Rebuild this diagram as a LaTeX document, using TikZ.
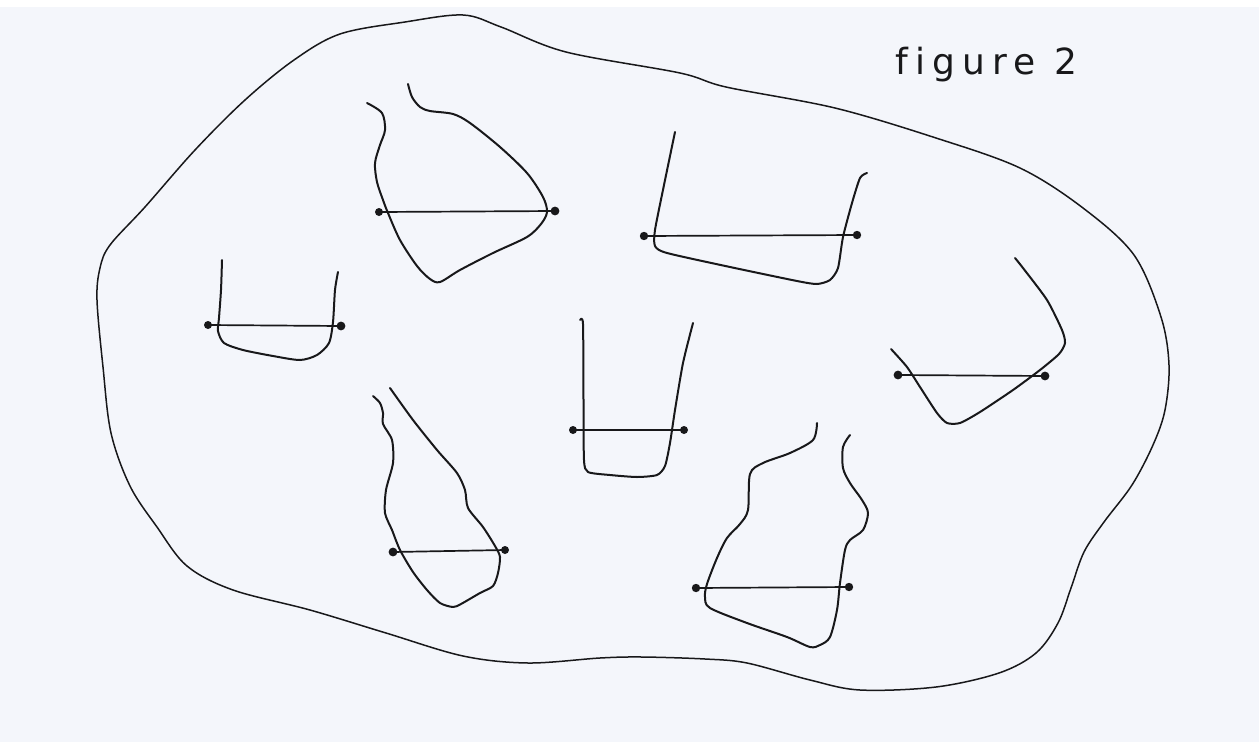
\documentclass[tikz,border=0pt]{standalone}
\usepackage{fontspec}
\newfontfamily\figfont[LetterSpace=20,Ligatures=NoCommon]{DejaVu Sans}
\definecolor{ink}{RGB}{24,24,26}
\definecolor{paper}{RGB}{244,246,251}
\tikzset{
  outline/.style={draw=ink, line width=1.5pt, line cap=round, line join=round},
  cupline/.style={draw=ink, line width=2pt, line cap=round, line join=round},
  bar/.style={draw=ink, line width=1.7pt},
  endpt/.style={fill=ink, draw=none},
}
\begin{document}
\begin{tikzpicture}[x=1pt,y=-1pt]
\fill[paper] (0,0) rectangle (1259,742);
\fill[white] (0,0) rectangle (1259,7);
\useasboundingbox (0,0) rectangle (1259,742);

% outer blob
\draw[outline] plot[smooth cycle, tension=0.55] coordinates {
 (463,15) (501,27) (566,52) (680,73) (726,87) (835,108) (936,138) (1020,168)
 (1083,208) (1134,255) (1161,317) (1169,365) (1165,410) (1153,445) (1132,485)
 (1104,522) (1084,552) (1071,588) (1058,623) (1036,653) (999,673) (936,687)
 (860,690) (810,680) (747,663) (705,659) (642,657) (600,658) (528,663)
 (463,656) (386,633) (310,610) (233,590) (187,566) (157,527) (130,486)
 (111,433) (103,367) (97,300) (100,268) (110,245) (145,207) (195,150)
 (245,100) (294,60) (340,34) (405,22)};

% label
\node[anchor=base west, inner sep=0pt, text=ink, font=\figfont\fontsize{36}{40}\selectfont] (title) at (895,74) {figure 2};

% cup A
\draw[cupline] plot[smooth, tension=0.5] coordinates {
 (367,103) (382,113) (385,130) (380,145) (375,163) (377,182) (383,200)
 (388,213) (400,240) (417,266) (430,279) (440,282) (460,270) (493,253)
 (527,237) (541,224) (547,212) (543,197) (527,173) (500,147) (470,123)
 (453,114) (430,111) (420,107) (412,97) (408,84)};
\coordinate (a1) at (379,212); \coordinate (a2) at (555,211);
\draw[bar] (a1) -- (a2);
\fill[endpt] (a1) circle (4pt); \fill[endpt] (a2) circle (4.4pt);

% cup B
\draw[cupline] plot[smooth, tension=0.4] coordinates {
 (675,132) (664,185) (655,230) (655,246) (667,253) (730,267) (797,281)
 (817,284) (830,280) (838,268) (843,237) (852,203) (860,178) (867,173)};
\coordinate (b1) at (644,236); \coordinate (b2) at (857,235);
\draw[bar] (b1) -- (b2);
\fill[endpt] (b1) circle (4.2pt); \fill[endpt] (b2) circle (4.2pt);

% cup C
\draw[cupline] plot[smooth, tension=0.45] coordinates {
 (222,260) (221,290) (219,318) (218,331) (224,343) (243,350) (273,356)
 (300,360) (317,355) (329,343) (333,322) (335,290) (338,272)};
\coordinate (c1) at (208,325); \coordinate (c2) at (341,326);
\draw[bar] (c1) -- (c2);
\fill[endpt] (c1) circle (4pt); \fill[endpt] (c2) circle (4.4pt);

% cup D
\draw[cupline] plot[smooth, tension=0.4] coordinates {
 (580,320) (583,324) (583.5,400) (584,460) (588,472) (610,475) (637,477)
 (657,475) (665,466) (670,443) (675,410) (683,363) (693,323)};
\coordinate (d1) at (573,430); \coordinate (d2) at (684,430);
\draw[bar] (d1) -- (d2);
\fill[endpt] (d1) circle (4pt); \fill[endpt] (d2) circle (4pt);

% cup E
\draw[cupline] plot[smooth, tension=0.4] coordinates {
 (1015,258) (1023,268) (1047,300) (1062,330) (1065,343) (1059,354)
 (1040,370) (1013,390) (980,412) (960,423) (947,423) (937,413) (920,387)
 (907,367) (891,349)};
\coordinate (e1) at (898,375); \coordinate (e2) at (1045,376);
\draw[bar] (e1) -- (e2);
\fill[endpt] (e1) circle (4.4pt); \fill[endpt] (e2) circle (4.4pt);

% cup F
\draw[cupline] plot[smooth, tension=0.45] coordinates {
 (373,396) (380,403) (383,413) (383,424) (392,440) (393,463) (386,490)
 (385,513) (392,530) (400,550) (413,572) (427,590) (440,603) (453,607)
 (461,604) (480,593) (493,586) (498,573) (500,557) (495,546) (483,527)
 (468,508) (465,490) (457,473) (437,450) (413,420) (390,388)};
\coordinate (f1) at (393,552); \coordinate (f2) at (505,550);
\draw[bar] (f1) -- (f2);
\fill[endpt] (f1) circle (4.4pt); \fill[endpt] (f2) circle (4pt);

% cup G
\draw[cupline] plot[smooth, tension=0.5] coordinates {
 (817,423) (813,440) (790,453) (763,463) (750,474) (748,510) (740,524)
 (727,538) (717,558) (707,584) (705,597) (710,608) (747,623) (787,637)
 (810,647) (820,645) (830,637) (837,610) (840,583) (845,550) (850,540)
 (863,530) (868,513) (862,500) (850,483) (843,468) (843,447) (850,435)};
\coordinate (g1) at (696,588); \coordinate (g2) at (849,587);
\draw[bar] (g1) -- (g2);
\fill[endpt] (g1) circle (4.2pt); \fill[endpt] (g2) circle (4.2pt);
\end{tikzpicture}
\end{document}
